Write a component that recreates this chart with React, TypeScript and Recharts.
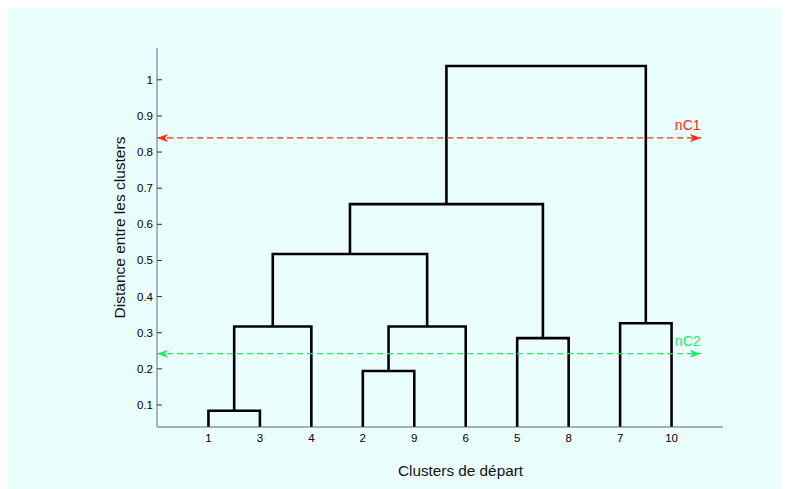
import React from 'react';
import { LineChart, Line, XAxis, YAxis, Label } from 'recharts';

// leaf order along the x axis (dendrogram leaf labels)
const leafLabels = ['1', '3', '4', '2', '9', '6', '5', '8', '7', '10'];

// linkage: leaves are nodes 1..10, each merge k creates node 11 + k
const mergeLeft = [1, 2, 5, 11, 12, 7, 14, 17, 18];
const mergeRight = [3, 9, 8, 4, 6, 10, 15, 13, 16];
const mergeHeights = [0.084, 0.194, 0.285, 0.317, 0.317, 0.326, 0.518, 0.656, 1.038];

const yTicks = [0.1, 0.2, 0.3, 0.4, 0.5, 0.6, 0.7, 0.8, 0.9, 1];
const xTicks = [1, 2, 3, 4, 5, 6, 7, 8, 9, 10];

// cut levels drawn as dashed arrows
const cutNames = ['nC1', 'nC2'];
const cutValues = [0.839, 0.242];
const cutSpan = [0, 10.57];

const cutColors = ['#ff2a10', '#1ee86e'];
const FONT = '"Liberation Sans", Arial, Helvetica, sans-serif';

type Pt = { x: number; y: number };

const buildLinks = (): Pt[][] => {
  const nodeX: Record<number, number> = {};
  const nodeH: Record<number, number> = {};
  for (let i = 1; i <= leafLabels.length; i++) {
    nodeX[i] = leafLabels.indexOf(String(i)) + 1;
    nodeH[i] = 0;
  }
  return mergeHeights.map((h, k) => {
    let l = mergeLeft[k];
    let r = mergeRight[k];
    if (nodeX[l] > nodeX[r]) [l, r] = [r, l];
    const id = leafLabels.length + 1 + k;
    nodeX[id] = (nodeX[l] + nodeX[r]) / 2;
    nodeH[id] = h;
    return [
      { x: nodeX[l], y: nodeH[l] },
      { x: nodeX[l], y: h },
      { x: nodeX[r], y: h },
      { x: nodeX[r], y: nodeH[r] },
    ];
  });
};

const links = buildLinks();

const YTick = (props: any) => {
  const { x, y, payload } = props;
  const ax = x + 4;
  return (
    <g>
      <line x1={ax} x2={ax + 5} y1={y} y2={y} stroke="#333" strokeWidth={1} />
      <text x={x} y={y} dy="0.35em" textAnchor="end" fontSize={11.5} fontFamily={FONT} fill="#000">
        {String(payload.value)}
      </text>
    </g>
  );
};

const XTick = (props: any) => {
  const { x, y, payload } = props;
  return (
    <text x={x} y={y} dy="0.71em" textAnchor="middle" fontSize={11.5} fontFamily={FONT} fill="#000">
      {leafLabels[payload.value - 1]}
    </text>
  );
};

const arrowDot = (name: string, color: string) => (props: any) => {
  const { cx, cy, index } = props;
  if (index === 0) {
    return (
      <polygon key={`a${index}`} points={`${cx},${cy} ${cx + 11},${cy - 4} ${cx + 8},${cy} ${cx + 11},${cy + 4}`} fill={color} />
    );
  }
  return (
    <g key={`a${index}`}>
      <polygon points={`${cx},${cy} ${cx - 11},${cy - 4} ${cx - 8},${cy} ${cx - 11},${cy + 4}`} fill={color} />
      <text x={cx - 26} y={cy - 8} fontSize={14} fontFamily={FONT} fill={color}>{name}</text>
    </g>
  );
};

export default function App() {
  return (
    <div style={{ width: 782, height: 486, marginTop: -5, background: '#ebfefe' }}>
      <LineChart width={782} height={486} margin={{ top: 45, right: 67, bottom: 0, left: 0 }}>
        <XAxis
          type="number"
          dataKey="x"
          domain={[0, 11]}
          ticks={xTicks}
          allowDataOverflow
          height={62}
          tickSize={0}
          tickMargin={7}
          tickLine={false}
          tick={<XTick />}
          axisLine={{ stroke: '#5f676c', strokeWidth: 1 }}
        >
          <Label
            content={({ viewBox }: any) => (
              <text x={viewBox.x + 303.5} y={viewBox.y + 49} textAnchor="middle" fontSize={15.3} fontFamily={FONT} fill="#111">
                Clusters de départ
              </text>
            )}
          />
        </XAxis>
        <YAxis
          type="number"
          domain={[0.039, 1.088]}
          ticks={yTicks}
          allowDataOverflow
          width={149}
          tickSize={0}
          tickMargin={4}
          tickLine={false}
          tick={<YTick />}
          axisLine={{ stroke: '#8f9ea2', strokeWidth: 1.5 }}
        >
          <Label
            content={({ viewBox }: any) => {
              const lx = viewBox.x + 117;
              const ly = viewBox.y + 179.5;
              return (
                <text x={lx} y={ly} transform={`rotate(-90 ${lx} ${ly})`} textAnchor="middle" fontSize={15.5} fontFamily={FONT} fill="#111">
                  Distance entre les clusters
                </text>
              );
            }}
          />
        </YAxis>
        {links.map((pts, i) => (
          <Line
            key={`link${i}`}
            data={pts}
            dataKey="y"
            type="linear"
            stroke="#000"
            strokeWidth={2.6}
            strokeLinejoin="miter"
            dot={false}
            activeDot={false}
            isAnimationActive={false}
          />
        ))}
        {cutValues.map((v, i) => (
          <Line
            key={`cut${i}`}
            data={cutSpan.map((x) => ({ x, y: v }))}
            dataKey="y"
            type="linear"
            stroke={cutColors[i]}
            strokeWidth={1.3}
            strokeDasharray="6 4"
            dot={arrowDot(cutNames[i], cutColors[i])}
            activeDot={false}
            isAnimationActive={false}
          />
        ))}
      </LineChart>
    </div>
  );
}
